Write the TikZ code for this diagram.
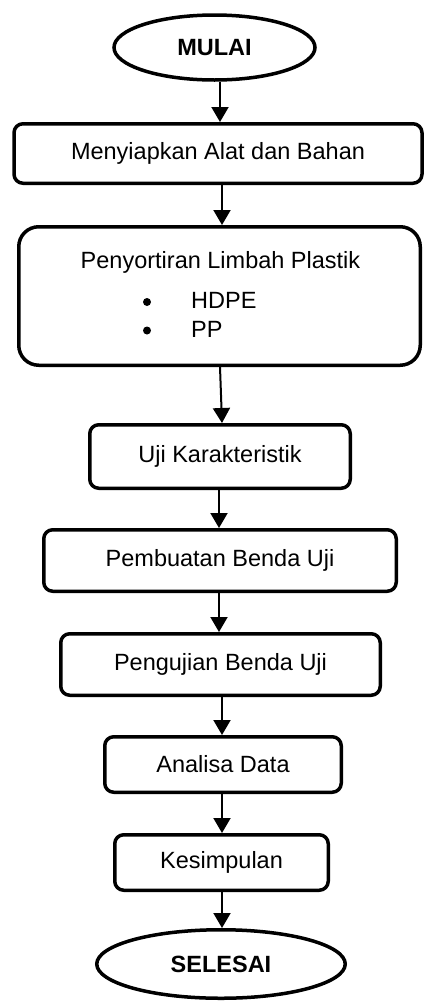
\documentclass[tikz,border=0pt]{standalone}
\usepackage{fontspec}
\setmainfont{Liberation Sans}
\usetikzlibrary{shapes.geometric,arrows.meta}
\begin{document}
\begin{tikzpicture}[x=1pt,y=-1pt,
  txt/.style={font=\fontsize{23.5}{28}\selectfont, inner sep=0pt},
  dot/.style={circle, fill, inner sep=0pt, minimum size=8pt},
  term/.style={ellipse, draw, line width=3.5pt, inner sep=0pt, font=\fontsize{23.5}{28}\selectfont\bfseries},
  proc/.style={rectangle, rounded corners=9pt, draw, line width=3.5pt, inner sep=0pt, font=\fontsize{23.5}{28}\selectfont},
  arr/.style={line width=2pt, -{Triangle[width=17pt,length=15pt]}}]
\useasboundingbox (0,0) rectangle (425,1002);
\node[term, minimum width=201pt, minimum height=65pt] (mulai) at (214.5,47.5) {MULAI};
\node[proc, minimum width=408pt, minimum height=59.5pt] (b1) at (218,153.5) {Menyiapkan Alat dan Bahan};
\node[proc, rounded corners=20pt, minimum width=401.5pt, minimum height=138.5pt] (b2) at (219.5,296) {};
\node[txt, anchor=base] (b2t) at (220.5,268) {Penyortiran Limbah Plastik};
\node[dot] (bul1) at (147,302) {};
\node[dot] (bul2) at (147,330.5) {};
\node[txt, anchor=base west] (hdpe) at (191,308) {HDPE};
\node[txt, anchor=base west] (pp) at (191,337) {PP};
\node[proc, minimum width=260.5pt, minimum height=63.5pt] (b3) at (220,456.5) {Uji Karakteristik};
\node[proc, minimum width=352.5pt, minimum height=61.5pt] (b4) at (220,560.5) {Pembuatan Benda Uji};
\node[proc, minimum width=319.5pt, minimum height=61.5pt] (b5) at (220.5,664.5) {Pengujian Benda Uji};
\node[proc, minimum width=236.5pt, minimum height=55.5pt] (b6) at (223,764.5) {Analisa Data};
\node[proc, minimum width=213.5pt, minimum height=55.5pt] (b7) at (221.5,862.5) {Kesimpulan};
\node[term, minimum width=248.5pt, minimum height=68.5pt] (selesai) at (221,964) {SELESAI};
\draw[arr] ([xshift=5.5pt]mulai.south) -- ([xshift=2pt]b1.north);
\draw[arr] ([xshift=4pt]b1.south) -- ([xshift=2.5pt]b2.north);
\draw[arr] ([xshift=0.5pt]b2.south) -- ([xshift=2pt]b3.north);
\draw[arr] ([xshift=-1pt]b3.south) -- ([xshift=-1pt]b4.north);
\draw[arr] ([xshift=-1pt]b4.south) -- ([xshift=-1.5pt]b5.north);
\draw[arr] ([xshift=1.5pt]b5.south) -- ([xshift=-1pt]b6.north);
\draw[arr] ([xshift=-1pt]b6.south) -- ([xshift=0.5pt]b7.north);
\draw[arr] ([xshift=0.5pt]b7.south) -- ([xshift=1pt]selesai.north);
\end{tikzpicture}
\end{document}
